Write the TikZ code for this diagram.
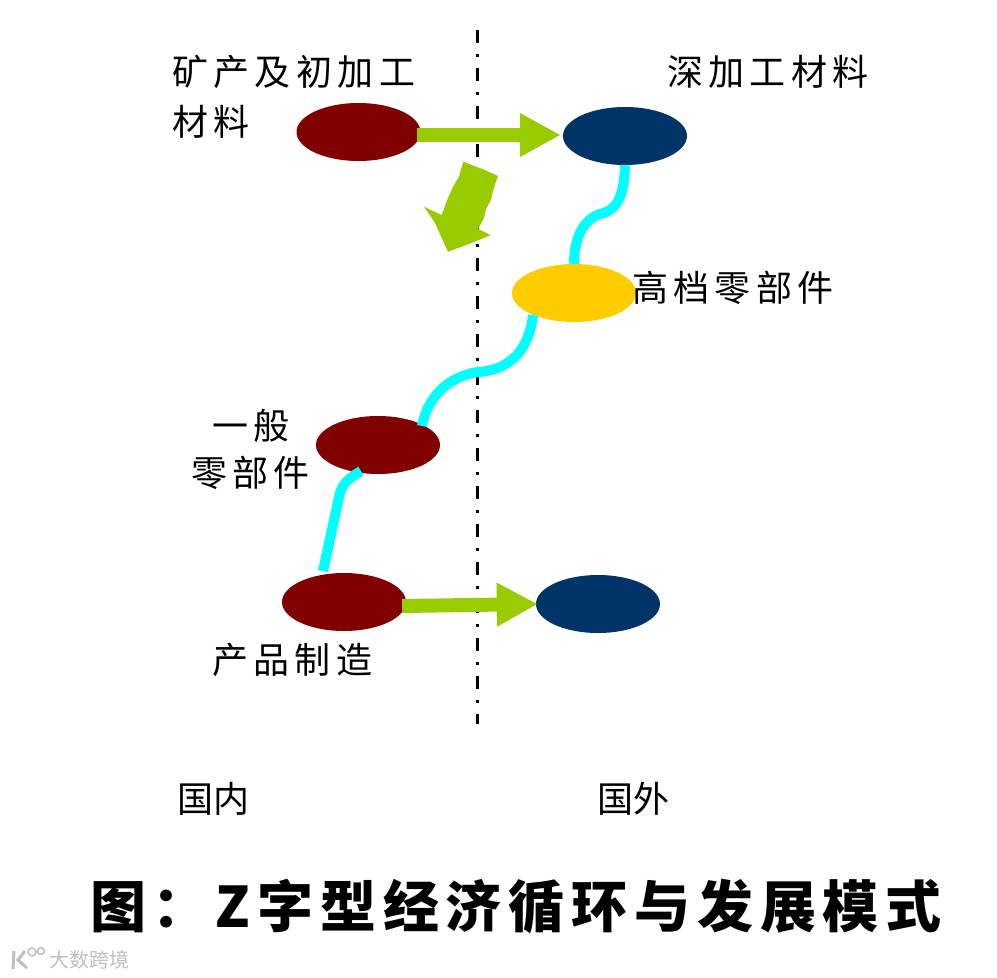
\documentclass[tikz,border=0pt]{standalone}
\usepackage{fontspec}
\usetikzlibrary{arrows.meta,shapes.geometric}
\newfontfamily\cjkfont[LetterSpace=15]{Noto Sans CJK SC}
\newfontfamily\cjktight[LetterSpace=1]{Noto Sans CJK SC}
\newfontfamily\cjktitle[LetterSpace=12.2]{Noto Sans CJK SC}
\newfontfamily\cjkmark{Noto Sans CJK SC}
\definecolor{maroon}{RGB}{128,0,0}
\definecolor{navy}{RGB}{0,51,102}
\definecolor{gold}{RGB}{255,204,0}
\definecolor{leaf}{RGB}{153,204,0}
\definecolor{aqua}{RGB}{0,255,255}
\tikzset{
  oval/.style={ellipse,minimum width=124pt,minimum height=58pt,inner sep=0pt,fill=#1},
  label text/.style={inner sep=0pt,anchor=west,font={\cjkfont\fontsize{36}{50}\selectfont},align=left},
  short text/.style={inner sep=0pt,anchor=west,font={\cjktight\fontsize{36}{50}\selectfont}},
  flow/.style={draw=leaf,line width=14pt,-{Triangle[length=41pt,width=41pt]}},
  link/.style={draw=aqua,line width=10pt},
  axis/.style={draw=black,line width=3pt,dash pattern=on 13pt off 11pt on 3pt off 11pt}
}
\begin{document}
\begin{tikzpicture}[x=1pt,y=-1pt]
\useasboundingbox (0,0) rectangle (997,978);
\coordinate (axisTop) at (477,30);
\coordinate (axisBottom) at (477,724);
\draw[axis] (axisTop) -- (axisBottom);
\node[oval=maroon] (ore) at (358.5,132) {};
\node[oval=navy] (deep) at (625,136) {};
\node[oval=gold] (parts) at (574,293) {};
\node[oval=maroon] (general) at (378,445) {};
\node[oval=maroon] (make) at (344,602) {};
\node[oval=navy] (sell) at (598,604) {};
\draw[flow] (ore.east) ++(-4,3) coordinate (oreOut) (oreOut) -- ([xshift=-2pt]deep.west |- oreOut);
\draw[flow] (make.east) ++(-4,4) coordinate (makeOut) (makeOut) -- ([xshift=2pt,yshift=0pt]sell.west);
\draw[link] (deep.south) .. controls (624,195) and (618,210) .. (600,214) .. controls (582,220) and (574,240) .. (parts.north);
\draw[link] (533,315) .. controls (529,350) and (510,370) .. (478,372) .. controls (450,376) and (428,395) .. (422,426);
\draw[link] (361,471) .. controls (350,478) and (342,482) .. (339,497) -- (323,571);
\fill[leaf] (463.3,161.7) -- (485,170) -- (498,176) -- (493,190) -- (491,200) -- (486,209) -- (484,218) -- (478,229) -- (490.7,235) -- (471.7,243) -- (448,251.7) -- (441.7,238) -- (435,223) -- (424,206.7) -- (441.7,215) -- (448,198) -- (453,186.7) -- (459,176.7) -- cycle;
\node[label text,anchor=north west] (t1) at (172,55) {矿产及初加工\\材料};
\node[label text] (t2) at (667,72) {深加工材料};
\node[label text] (t3) at (632,288) {高档零部件};
\node[label text] (t4) at (212,426) {一般};
\node[label text] (t5) at (191,473) {零部件};
\node[label text] (t6) at (212,660) {产品制造};
\node[short text] (t7) at (177,799) {国内};
\node[short text] (t8) at (597,799) {国外};
\node[inner sep=0pt,anchor=west,font={\cjktitle\bfseries\fontsize{56}{60}\selectfont}] (title) at (90,906) {图：Z字型经济循环与发展模式};
\node[inner sep=0pt,anchor=west,text=black!25,font={\cjkmark\fontsize{20}{22}\selectfont}] (mark) at (49,960) {大数跨境};
\draw[black!25,line width=3pt] (14,951) -- (13,969) (25,951) -- (18,960) -- (27,968);
\draw[black!25,line width=1.5pt] (32,952) circle (4pt) (41,951) circle (3.5pt);
\end{tikzpicture}
\end{document}
